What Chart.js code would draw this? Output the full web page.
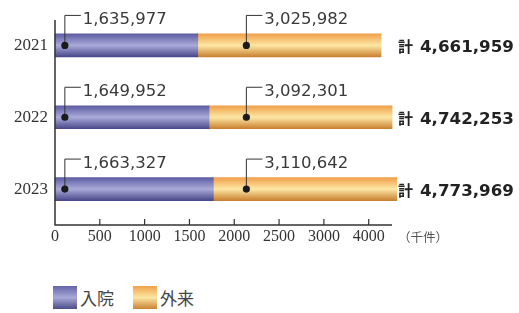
<!DOCTYPE html>
<html lang="ja">
<head>
<meta charset="UTF-8">
<title>入院・外来 件数</title>
<script src="https://cdn.jsdelivr.net/npm/chart.js@4.4.0/dist/chart.umd.min.js"></script>
<style>
    body {
        margin: 0;
        background: #fff;
        width: 519px;
        height: 313px;
        position: relative;
        overflow: hidden;
    }
    #wrap {
        position: absolute;
        left: 0;
        top: 0;
        width: 519px;
        height: 260px;
    }
    .legend {
        position: absolute;
        top: 285px;
        left: 53px;
        display: flex;
        align-items: center;
        font-family: "Noto Sans CJK JP", sans-serif;
        font-size: 17px;
        color: #444;
    }
    .legend .item {
        display: flex;
        align-items: center;
        margin-right: 19px;
    }
    .legend .box {
        width: 24px;
        height: 23px;
        margin-right: 3px;
    }
    .in-box { background: linear-gradient(#6464a8, #a8a8d8 50%, #4c4c8a); }
    .out-box { background: linear-gradient(#f0a04a, #fde6a2 50%, #c98232); }
</style>
</head>
<body>
<div id="wrap"><canvas id="chart" width="519" height="260"></canvas></div>
<div class="legend">
    <div class="item"><div class="box in-box"></div><span>入院</span></div>
    <div class="item"><div class="box out-box"></div><span>外来</span></div>
</div>

<script>
    // years on the y axis
    const years = ['2021', '2022', '2023'];

    // printed values (件)
    const inpatient = [1635977, 1649952, 1663327];
    const outpatient = [3025982, 3092301, 3110642];
    const totals = [4661959, 4742253, 4773969];

    // bar lengths as drawn in the picture (千件, the drawing is not to scale)
    const barIn = [1593, 1719, 1767];
    const barOut = [2045, 2042, 2047];

    // x ticks and their labels as printed (the last one reads 4000)
    const tickValues = [0, 500, 1000, 1500, 2000, 2500, 3000, 3500];
    const tickLabels = ['0', '500', '1000', '1500', '2000', '2500', '3000', '4000'];

    function barGradient(top, mid, bottom) {
        return function(context) {
            const chart = context.chart;
            const y = chart.scales.y;
            if (!y || context.dataIndex === undefined) return mid;
            const yc = y.getPixelForValue(context.dataIndex);
            if (!isFinite(yc)) return mid;
            const g = chart.ctx.createLinearGradient(0, yc - 11.5, 0, yc + 11.5);
            g.addColorStop(0, top);
            g.addColorStop(0.5, mid);
            g.addColorStop(1, bottom);
            return g;
        };
    }

    const fmt = n => n.toLocaleString('en-US');

    // axes, tick marks, callouts and totals
    const decorations = {
        id: 'decorations',
        afterDatasetsDraw(chart) {
            const ctx = chart.ctx;
            const x = chart.scales.x;
            const y = chart.scales.y;
            const area = chart.chartArea;
            ctx.save();

            // axis lines
            ctx.strokeStyle = '#333';
            ctx.lineWidth = 1.5;
            ctx.beginPath();
            ctx.moveTo(area.left, 20);
            ctx.lineTo(area.left, area.bottom);
            ctx.lineTo(area.right, area.bottom);
            ctx.stroke();

            // tick marks pointing up
            ctx.lineWidth = 1.2;
            x.ticks.forEach(t => {
                if (t.value === 0) return;
                const px = x.getPixelForValue(t.value);
                ctx.beginPath();
                ctx.moveTo(px, area.bottom);
                ctx.lineTo(px, area.bottom - 6);
                ctx.stroke();
            });

            // unit
            ctx.fillStyle = '#555';
            ctx.font = '12.5px "Noto Sans CJK JP"';
            ctx.textBaseline = 'middle';
            ctx.textAlign = 'left';
            ctx.fillText('（千件）', area.right + 6, area.bottom + 12);

            years.forEach((yr, i) => {
                const yc = y.getPixelForValue(i);
                const callouts = [
                    [x.getPixelForValue(110), inpatient[i]],
                    [x.getPixelForValue(2135), outpatient[i]]
                ];
                callouts.forEach(([px, val]) => {
                    ctx.strokeStyle = '#333';
                    ctx.lineWidth = 1;
                    ctx.beginPath();
                    ctx.moveTo(px, yc);
                    ctx.lineTo(px, yc - 30);
                    ctx.lineTo(px + 16, yc - 30);
                    ctx.stroke();
                    ctx.fillStyle = '#1a1a1a';
                    ctx.beginPath();
                    ctx.arc(px, yc, 3.6, 0, Math.PI * 2);
                    ctx.fill();
                    ctx.fillStyle = '#3a3a3a';
                    ctx.font = '16.5px "DejaVu Sans"';
                    ctx.textBaseline = 'alphabetic';
                    ctx.fillText(fmt(val), px + 18, yc - 21.5);
                });

                // total
                ctx.fillStyle = '#222';
                ctx.textBaseline = 'alphabetic';
                ctx.font = 'bold 15px "Noto Sans CJK JP"';
                ctx.fillText('計', 398, yc + 6.5);
                ctx.font = 'bold 16.7px "DejaVu Sans"';
                ctx.fillText(fmt(totals[i]), 420, yc + 6.5);
            });
            ctx.restore();
        }
    };

    new Chart(document.getElementById('chart'), {
        type: 'bar',
        data: {
            labels: years,
            datasets: [
                {
                    label: '入院',
                    data: barIn,
                    backgroundColor: barGradient('#5c5ca2', '#aaaada', '#48488a'),
                    barThickness: 23,
                    clip: false
                },
                {
                    label: '外来',
                    data: barOut,
                    backgroundColor: barGradient('#f0a04a', '#fde7a4', '#c98030'),
                    barThickness: 23,
                    clip: false
                }
            ]
        },
        options: {
            indexAxis: 'y',
            responsive: false,
            animation: false,
            devicePixelRatio: 1,
            layout: { padding: { top: 9.5, right: 127, left: 0, bottom: 0 } },
            plugins: {
                legend: { display: false },
                tooltip: { enabled: false }
            },
            scales: {
                x: {
                    stacked: true,
                    min: 0,
                    max: 3760,
                    grid: { display: false, drawTicks: false },
                    border: { display: false },
                    afterBuildTicks: s => { s.ticks = tickValues.map(v => ({ value: v })); },
                    afterFit: s => { s.height = 35; },
                    ticks: {
                        autoSkip: false,
                        maxRotation: 0,
                        padding: 2,
                        color: '#333',
                        font: { family: '"Liberation Serif"', size: 16 },
                        callback: (v, i) => tickLabels[i]
                    }
                },
                y: {
                    stacked: true,
                    grid: { display: false, drawTicks: false },
                    border: { display: false },
                    afterFit: s => { s.width = 55; s.paddingTop = 0; s.paddingBottom = 0; },
                    ticks: {
                        padding: 7,
                        color: '#333',
                        font: { family: '"Liberation Serif"', size: 17 }
                    }
                }
            }
        },
        plugins: [decorations]
    });
</script>
</body>
</html>
